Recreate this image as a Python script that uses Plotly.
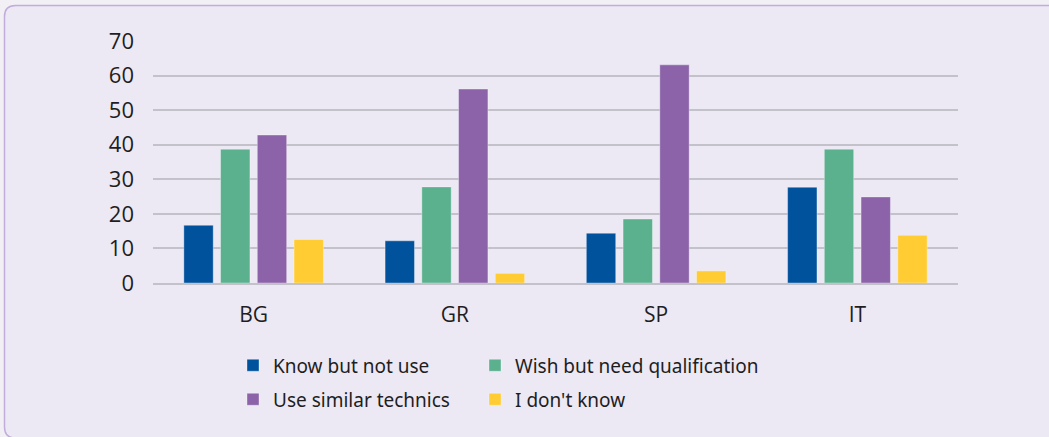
import plotly.graph_objects as go

categories = ["BG", "GR", "SP", "IT"]
know_but_not_use = [16.7, 12.2, 14.4, 27.7]
wish_but_need_qualification = [38.7, 27.8, 18.5, 38.7]
use_similar_technics = [42.8, 56.1, 63.1, 24.9]
i_dont_know = [12.6, 2.8, 3.5, 13.8]
y_ticks = [0, 10, 20, 30, 40, 50, 60, 70]

series = [
    ("Know but not use", know_but_not_use, "#00529C", "legend", 197),
    ("Wish but need qualification", wish_but_need_qualification, "#5BB08E", "legend", 320),
    ("Use similar technics", use_similar_technics, "#8C63A9", "legend2", 197),
    ("I don't know", i_dont_know, "#FFCC33", "legend2", 320),
]

W, H = 1049, 437
ML, MR, MT, MB = 153, 91, 41, 154
PW, PH = W - ML - MR, H - MT - MB


def xp(px):
    return (px - ML) / PW


def yp(py):
    return (H - MB - py) / PH


fig = go.Figure()
for name, vals, color, leg, lw in series:
    fig.add_trace(go.Bar(
        x=categories, y=vals, name=name, legend=leg, legendwidth=lw,
        marker=dict(color=color, line=dict(color="rgba(255,255,255,0.35)", width=1)),
    ))

# rounded card background
x0, y0, x1, y1, r = 4.5, 5.5, 1070, 438, 11
path = (
    f"M {xp(x0 + r)},{yp(y0)} L {xp(x1)},{yp(y0)} L {xp(x1)},{yp(y1)} "
    f"L {xp(x0 + r)},{yp(y1)} "
    f"Q {xp(x0)},{yp(y1)} {xp(x0)},{yp(y1 - r)} "
    f"L {xp(x0)},{yp(y0 + r)} "
    f"Q {xp(x0)},{yp(y0)} {xp(x0 + r)},{yp(y0)} Z"
)
fig.add_shape(type="path", path=path, xref="paper", yref="paper", layer="below",
              fillcolor="#ECE8F4", line=dict(color="#C2ACDA", width=1.5))

legend_common = dict(
    orientation="h", xanchor="left", yanchor="top",
    font=dict(family="Noto Sans", size=19, color="#1E1E1E"),
    bgcolor="rgba(0,0,0,0)",
)

fig.update_layout(
    width=W, height=H,
    margin=dict(l=ML, r=MR, t=MT, b=MB, autoexpand=False),
    paper_bgcolor="#F2F0F5",
    plot_bgcolor="rgba(0,0,0,0)",
    barmode="group", bargap=0.27, bargroupgap=0.2,
    font=dict(family="Open Sans", color="#1E1E1E"),
    showlegend=True,
    legend=dict(x=xp(233), y=-0.262, **legend_common),
    legend2=dict(x=xp(233), y=-0.262 - 34 / PH, **legend_common),
)
fig.update_yaxes(
    range=[0, 70], tickvals=y_ticks, showgrid=True, gridcolor="#C3C1C9", gridwidth=1.5,
    zeroline=False, showline=False, ticks="", ticklabelstandoff=18,
    tickfont=dict(size=22, color="#1E1E1E"),
)
fig.update_xaxes(
    showline=True, linecolor="#C3C1C9", linewidth=1.5, ticks="",
    ticklabelstandoff=12, tickfont=dict(size=21, color="#1E1E1E"),
)

fig.write_html("out.html")
